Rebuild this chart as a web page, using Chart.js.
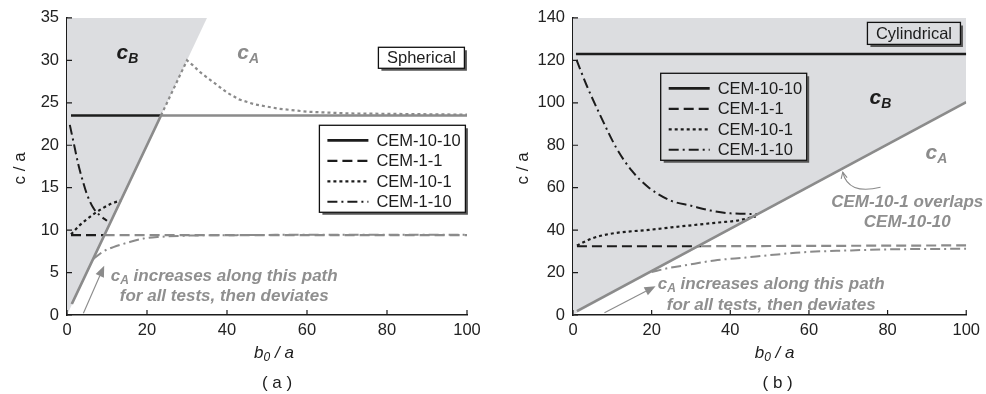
<!DOCTYPE html>
<html>
<head>
<meta charset="utf-8">
<script src="https://cdn.jsdelivr.net/npm/chart.js@4.4.1/dist/chart.umd.min.js"></script>
<style>
  html, body { margin: 0; padding: 0; background: #fff; }
  #wrap { position: relative; width: 986px; height: 394px; overflow: hidden; }
  canvas { position: absolute; top: 0; }
</style>
</head>
<body>
<div id="wrap">
  <canvas id="sph" width="493" height="394" style="left:0"></canvas>
  <canvas id="cyl" width="493" height="394" style="left:493px"></canvas>
</div>
<script>
// ---- series names and tick labels ----
const seriesNames = ['CEM-10-10', 'CEM-1-1', 'CEM-10-1', 'CEM-1-10'];
const xTickValues = [0, 20, 40, 60, 80, 100];
const sphTickValues = [0, 5, 10, 15, 20, 25, 30, 35];
const cylTickValues = [0, 20, 40, 60, 80, 100, 120, 140];

// ---- (a) spherical ----
const sphShadeX = [0, 35];
const sphShadeY = [0, 35];
const sphPathX = [1.2, 23.5, 100];            // c_A path, CEM-10-10
const sphPathY = [1.3, 23.5, 23.5];
const sph1010X = [1, 23.5];                    // c_B, CEM-10-10
const sph1010Y = [23.5, 23.5];
const sph11X = [1, 9.4];                       // c_B, CEM-1-1
const sph11Y = [9.4, 9.4];
const sph11AX = [9.4, 100];                    // c_A, CEM-1-1
const sph11AY = [9.4, 9.4];
const sph101X = [1, 3, 5, 7, 9, 11, 13.5];     // c_B, CEM-10-1
const sph101Y = [9.5, 10.5, 11.3, 12.0, 12.6, 13.1, 13.5];
const sph101AX = [23.5, 30, 31.5, 33.3, 35.5, 37.5, 40, 43, 47, 53, 60, 70, 80, 100];   // c_A, CEM-10-1
const sph101AY = [23.5, 30, 29.4, 28.6, 27.8, 27.1, 26.2, 25.4, 24.8, 24.3, 23.95, 23.75, 23.7, 23.6];
const sph110X = [0.7, 1.75, 2.8, 4, 5, 6.6, 8.3, 10];               // c_B, CEM-1-10
const sph110Y = [22.4, 20.1, 17.8, 15.7, 14.2, 12.6, 11.7, 11.1];
const sph110AX = [6.6, 9.1, 11.6, 15, 19.1, 23.3, 30, 40, 60, 100]; // c_A, CEM-1-10
const sph110AY = [6.6, 7.5, 8.0, 8.5, 9.0, 9.2, 9.35, 9.4, 9.45, 9.45];

// ---- (b) cylindrical ----
const cylShadeX = [0, 100];
const cylShadeY = [0, 100];
const cylPathX = [1, 100];
const cylPathY = [1.8, 100.3];
const cyl1010X = [0.75, 100];
const cyl1010Y = [123, 123];
const cyl11X = [1, 32.6];
const cyl11Y = [32.4, 32.4];
const cyl11AX = [32.6, 100];
const cyl11AY = [32.4, 32.8];
const cyl101X = [1, 5, 9.3, 14, 19.3, 25, 31.8, 37, 41.8, 46.5];
const cyl101Y = [32.8, 36.2, 38.2, 39.3, 40.1, 41.3, 42.6, 43.6, 44.5, 46.5];
const cyl110X = [0.9, 3.4, 6.8, 11, 15, 19.3, 25, 30, 35, 40, 47];
const cyl110Y = [120.2, 108.5, 94.6, 78.8, 67.9, 60, 53.8, 51.5, 49.2, 47.9, 47.6];
const cyl110AX = [20, 24, 28.5, 36, 44, 50, 58.6, 70, 79.4, 90, 100];
const cyl110AY = [20.3, 22, 23.4, 25.7, 27.1, 28.2, 29.6, 30.4, 30.9, 31.1, 31.2];

// ---- styling ----
const FONT = "'Liberation Sans', Arial, Helvetica, sans-serif";
const INK = '#1c1c1c';
const GREY = '#8b8b8b';
const NOTE = '#8f8f8f';
const SHADE = '#dcdde0';
const DASH = { 'CEM-10-10': [], 'CEM-1-1': [10, 5], 'CEM-10-1': [3, 3], 'CEM-1-10': [10, 4, 2, 4] };
const LW = { 'CEM-10-10': 2.7, 'CEM-1-1': 2.2, 'CEM-10-1': 2.2, 'CEM-1-10': 2.0 };

function pts(xs, ys) { return xs.map((x, i) => ({ x: x, y: ys[i] })); }

// smooth curves use monotone interpolation; polylines stay straight
function series(name, xs, ys, color, smooth) {
  return {
    label: name, data: pts(xs, ys), showLine: true, fill: false,
    borderColor: color, borderDash: DASH[name], borderWidth: LW[name],
    borderCapStyle: 'butt', pointRadius: 0,
    cubicInterpolationMode: smooth ? 'monotone' : 'default', tension: 0, order: 1
  };
}

function shade(xs, ys) {
  return {
    label: 'cB region', data: pts(xs, ys), showLine: true, fill: 'end',
    backgroundColor: SHADE, borderColor: 'rgba(0,0,0,0)', borderWidth: 0,
    pointRadius: 0, order: 10
  };
}

// draws text made of several runs (for subscripts)
function richText(ctx, parts, x, y, align) {
  let w = 0;
  parts.forEach(p => { ctx.font = p[1]; w += ctx.measureText(p[0]).width; });
  let cx = align === 'center' ? x - w / 2 : (align === 'right' ? x - w : x);
  ctx.textAlign = 'left';
  ctx.textBaseline = 'alphabetic';
  parts.forEach(p => {
    ctx.font = p[1];
    ctx.fillText(p[0], cx, y + (p[2] || 0));
    cx += ctx.measureText(p[0]).width;
  });
}

function framedBox(ctx, x, y, w, h) {
  ctx.save();
  ctx.setLineDash([]);
  ctx.strokeStyle = '#555';
  ctx.lineWidth = 2;
  ctx.beginPath();
  ctx.moveTo(x + w + 1.5, y + 3); ctx.lineTo(x + w + 1.5, y + h + 1.5); ctx.lineTo(x + 3, y + h + 1.5);
  ctx.stroke();
  ctx.strokeStyle = '#111';
  ctx.lineWidth = 1.3;
  ctx.strokeRect(x, y, w, h);
  ctx.restore();
}

function arrow(ctx, x1, y1, x2, y2, color) {
  const a = Math.atan2(y2 - y1, x2 - x1);
  const L = 11, W = 4.5;
  ctx.save();
  ctx.strokeStyle = color; ctx.fillStyle = color; ctx.lineWidth = 1.1; ctx.setLineDash([]);
  ctx.beginPath();
  ctx.moveTo(x1, y1);
  ctx.lineTo(x2 - L * Math.cos(a), y2 - L * Math.sin(a));
  ctx.stroke();
  ctx.beginPath();
  ctx.moveTo(x2, y2);
  ctx.lineTo(x2 - L * Math.cos(a) - W * Math.sin(a), y2 - L * Math.sin(a) + W * Math.cos(a));
  ctx.lineTo(x2 - L * Math.cos(a) + W * Math.sin(a), y2 - L * Math.sin(a) - W * Math.cos(a));
  ctx.closePath();
  ctx.fill();
  ctx.restore();
}

function decorations(d) {
  return {
    id: 'decorations',
    afterDraw(chart) {
      const ctx = chart.ctx;
      const xs = chart.scales.x, ys = chart.scales.y;
      const px = v => xs.getPixelForValue(v);
      const py = v => ys.getPixelForValue(v);
      const area = chart.chartArea;
      ctx.save();

      // inward tick marks
      ctx.strokeStyle = INK; ctx.lineWidth = 1.2; ctx.setLineDash([]);
      ctx.beginPath();
      xs.ticks.forEach(t => { const p = px(t.value); ctx.moveTo(p, area.bottom); ctx.lineTo(p, area.bottom - 5); });
      ys.ticks.forEach(t => { const p = py(t.value); ctx.moveTo(area.left, p); ctx.lineTo(area.left + 5, p); });
      ctx.stroke();

      // region labels
      const big = 'bold italic 21px ' + FONT, sub = 'bold italic 14px ' + FONT;
      ctx.fillStyle = INK;
      richText(ctx, [['c', big], ['B', sub, 4]], px(d.cB[0]), py(d.cB[1]), 'center');
      ctx.fillStyle = GREY;
      richText(ctx, [['c', big], ['A', sub, 4]], px(d.cA[0]), py(d.cA[1]), 'center');

      // geometry tag
      const bx = px(d.tag.at[0]) - d.tag.w / 2, by = py(d.tag.at[1]) - d.tag.h / 2;
      framedBox(ctx, bx, by, d.tag.w, d.tag.h);
      ctx.fillStyle = INK; ctx.font = '16.5px ' + FONT; ctx.textAlign = 'center'; ctx.textBaseline = 'middle';
      ctx.fillText(d.tag.text, bx + d.tag.w / 2, by + d.tag.h / 2 + 1);

      // legend
      const lx = px(d.legend[0]), ly = py(d.legend[1]);
      framedBox(ctx, lx, ly, 146, 87);
      seriesNames.forEach((name, i) => {
        const ry = ly + 15 + i * 20.5;
        ctx.strokeStyle = INK; ctx.lineWidth = LW[name]; ctx.setLineDash(DASH[name]);
        ctx.beginPath(); ctx.moveTo(lx + 8, ry); ctx.lineTo(lx + 49, ry); ctx.stroke();
        ctx.setLineDash([]);
        ctx.fillStyle = INK; ctx.font = '16.5px ' + FONT; ctx.textAlign = 'left'; ctx.textBaseline = 'middle';
        ctx.fillText(name, lx + 57, ry + 1);
      });

      // path notes
      const nb = 'bold italic 17px ' + FONT, ns = 'bold italic 12px ' + FONT;
      ctx.fillStyle = NOTE;
      richText(ctx, [['c', nb], ['A', ns, 3], [' increases along this path', nb]], px(d.note[0]), py(d.note[1]), 'center');
      richText(ctx, [['for all tests, then deviates', nb]], px(d.note[0]), py(d.note[2]), 'center');
      arrow(ctx, px(d.arrow[0]), py(d.arrow[1]), px(d.arrow[2]), py(d.arrow[3]), GREY);

      if (d.overlap) {
        richText(ctx, [['CEM-10-1 overlaps', nb]], px(d.overlap.x), py(d.overlap.y1), 'center');
        richText(ctx, [['CEM-10-10', nb]], px(d.overlap.x), py(d.overlap.y2), 'center');
        const c = d.overlap.curve;
        const sx = px(c[0]), sy = py(c[1]), cx = px(c[2]), cy = py(c[3]), tx = px(c[4]), ty = py(c[5]);
        ctx.strokeStyle = GREY; ctx.lineWidth = 1.1; ctx.setLineDash([]);
        ctx.beginPath(); ctx.moveTo(sx, sy); ctx.quadraticCurveTo(cx, cy, tx, ty); ctx.stroke();
        const a = Math.atan2(ty - cy, tx - cx);
        ctx.beginPath();
        ctx.moveTo(tx - 7 * Math.cos(a - 0.45), ty - 7 * Math.sin(a - 0.45));
        ctx.lineTo(tx, ty);
        ctx.lineTo(tx - 7 * Math.cos(a + 0.45), ty - 7 * Math.sin(a + 0.45));
        ctx.stroke();
      }

      // axis titles
      const mid = (area.left + area.right) / 2;
      ctx.fillStyle = INK;
      richText(ctx, [['b', 'italic 17px ' + FONT], ['0', 'italic 12px ' + FONT, 3], [' / a', 'italic 17px ' + FONT]], mid + d.titleShift, 358, 'center');
      ctx.font = '17px ' + FONT; ctx.textAlign = 'center'; ctx.textBaseline = 'alphabetic';
      ctx.fillText(d.panel, mid + d.titleShift + 3, 388);
      ctx.save();
      ctx.translate(area.left - d.yTitleGap, (area.top + area.bottom) / 2 + 2);
      ctx.rotate(-Math.PI / 2);
      ctx.font = '17px ' + FONT; ctx.textAlign = 'center'; ctx.textBaseline = 'middle';
      ctx.fillText('c / a', 0, 0);
      ctx.restore();

      ctx.restore();
    }
  };
}

function makeChart(id, datasets, yTicks, yMax, leftW, rightPad, deco) {
  return new Chart(document.getElementById(id), {
    type: 'scatter',
    data: { datasets: datasets },
    options: {
      responsive: false, animation: false, devicePixelRatio: 1,
      layout: { padding: { top: 17, right: rightPad, left: 0, bottom: 0 } },
      plugins: { legend: { display: false }, tooltip: { enabled: false } },
      scales: {
        x: {
          type: 'linear', min: 0, max: 100,
          afterBuildTicks: s => { s.ticks = xTickValues.map(v => ({ value: v })); },
          afterFit: s => { s.height = 79; },
          grid: { display: false, drawTicks: false },
          border: { display: true, color: INK, width: 1.6 },
          ticks: { color: '#222', font: { family: FONT, size: 16.5 }, padding: 6, maxRotation: 0 }
        },
        y: {
          type: 'linear', min: 0, max: yMax,
          afterBuildTicks: s => { s.ticks = yTicks.map(v => ({ value: v })); },
          afterFit: s => { s.width = leftW; },
          grid: { display: false, drawTicks: false },
          border: { display: true, color: INK, width: 1.6 },
          ticks: { color: '#222', font: { family: FONT, size: 16.5 }, padding: 8 }
        }
      }
    },
    plugins: [decorations(deco)]
  });
}

makeChart('sph', [
  shade(sphShadeX, sphShadeY),
  series('CEM-10-10', sphPathX, sphPathY, GREY, false),
  series('CEM-1-1', sph11AX, sph11AY, GREY, false),
  series('CEM-10-1', sph101AX, sph101AY, GREY, false),
  series('CEM-1-10', sph110AX, sph110AY, GREY, true),
  series('CEM-10-10', sph1010X, sph1010Y, INK, false),
  series('CEM-1-1', sph11X, sph11Y, INK, false),
  series('CEM-10-1', sph101X, sph101Y, INK, true),
  series('CEM-1-10', sph110X, sph110Y, INK, true)
], sphTickValues, 35, 67, 26, {
  cB: [15.1, 30.1], cA: [45.3, 30.1],
  tag: { text: 'Spherical', at: [88.6, 30.3], w: 86, h: 21 },
  legend: [63.1, 22.35],
  note: [39.3, 4.0, 1.65],
  arrow: [4.1, 0.2, 9.3, 5.8],
  titleShift: 7, panel: '( a )', yTitleGap: 47
});

makeChart('cyl', [
  shade(cylShadeX, cylShadeY),
  series('CEM-10-10', cylPathX, cylPathY, GREY, false),
  series('CEM-1-1', cyl11AX, cyl11AY, GREY, false),
  series('CEM-1-10', cyl110AX, cyl110AY, GREY, true),
  series('CEM-10-10', cyl1010X, cyl1010Y, INK, false),
  series('CEM-1-1', cyl11X, cyl11Y, INK, false),
  series('CEM-10-1', cyl101X, cyl101Y, INK, true),
  series('CEM-1-10', cyl110X, cyl110Y, INK, true)
], cylTickValues, 140, 80, 14, {
  cB: [78.2, 99.3], cA: [92.4, 73.4],
  tag: { text: 'Cylindrical', at: [86.7, 132.7], w: 93, h: 22 },
  legend: [22.3, 113.9],
  note: [50.4, 12.2, 2.35],
  arrow: [8, 1.1, 21, 13.6],
  overlap: { x: 85, y1: 51.1, y2: 41.6, curve: [78.2, 60.2, 69.9, 56.5, 68.6, 67.3] },
  titleShift: 5, panel: '( b )', yTitleGap: 50
});
</script>
</body>
</html>
